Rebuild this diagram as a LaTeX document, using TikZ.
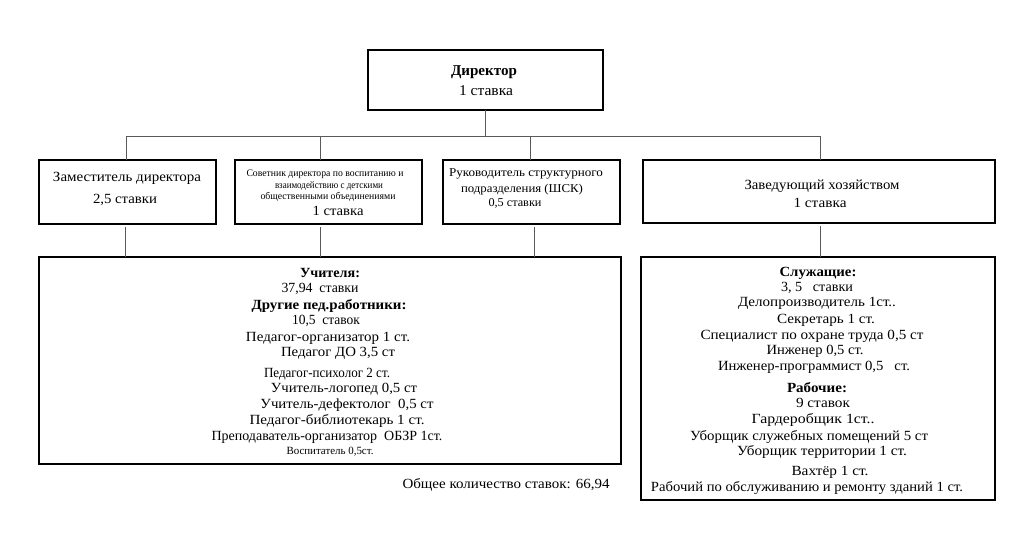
\documentclass[tikz,border=0pt]{standalone}
\usepackage{fontspec}
\setmainfont{Liberation Serif}
\usepackage{graphicx}
\newcommand{\wl}[2]{\resizebox{#1pt}{\height}{#2}}
\tikzset{
  box/.style={draw=black, line width=2.4pt, inner sep=0pt, outer sep=0pt, anchor=north west},
  tx/.style={inner sep=0pt, outer sep=0pt, anchor=center, font=\fontsize{14}{16}\selectfont},
  txs/.style={tx, font=\fontsize{10}{12}\selectfont},
  txm/.style={tx, font=\fontsize{12}{14}\selectfont},
  conn/.style={draw=black!65, line width=0.8pt}
}
\begin{document}
\begin{tikzpicture}[x=1pt,y=-1pt]
\useasboundingbox (0,0) rectangle (1024,534);
% boxes
\node[box, minimum width=235pt, minimum height=60pt] (dir) at (368,50) {};
\node[box, minimum width=177pt, minimum height=64pt] (zam) at (39,160) {};
\node[box, minimum width=187pt, minimum height=64pt] (sov) at (235,160) {};
\node[box, minimum width=177pt, minimum height=64pt] (ruk) at (443,160) {};
\node[box, minimum width=352pt, minimum height=63pt] (zav) at (643,160) {};
\node[box, minimum width=582pt, minimum height=207pt] (ped) at (39,257) {};
\node[box, minimum width=354pt, minimum height=243pt] (slu) at (641,257) {};
% junction coordinates
\coordinate (bus) at (0,136);
\coordinate (jz) at (126,136);
\coordinate (js) at (320,136);
\coordinate (jr) at (530,136);
\coordinate (jh) at (820,136);
\coordinate (lz) at (125,0);
\coordinate (ls) at (320,0);
\coordinate (lr) at (534,0);
\coordinate (lh) at (820,0);
% connectors
\draw[conn] (dir.south) -- (dir.south |- bus);
\draw[conn] (jz) -- (jh);
\draw[conn] (jz) -- (jz |- zam.north);
\draw[conn] (js) -- (js |- sov.north);
\draw[conn] (jr) -- (jr |- ruk.north);
\draw[conn] (jh) -- (jh |- zav.north);
\draw[conn] ([yshift=-3pt]lz |- zam.south) -- (lz |- ped.north);
\draw[conn] ([yshift=-3pt]ls |- sov.south) -- (ls |- ped.north);
\draw[conn] ([yshift=-3pt]lr |- ruk.south) -- (lr |- ped.north);
\draw[conn] ([yshift=-3pt]lh |- zav.south) -- (lh |- slu.north);
% director
\node[tx, font=\fontsize{15}{17}\selectfont] (d1) at (484,72) {\wl{66}{\textbf{Директор}}};
\node[tx, font=\fontsize{15}{17}\selectfont] (d2) at (486,91) {\wl{54}{1 ставка}};
% row 2
\node[tx] (z1) at (127,178) {\wl{148}{Заместитель директора}};
\node[tx] (z2) at (125,200) {\wl{64}{2,5 ставки}};
\node[txs] (s1) at (325,174) {\wl{157}{Советник директора по воспитанию и}};
\node[txs] (s2) at (329,186) {\wl{108}{взаимодействию с детскими}};
\node[txs] (s3) at (328,197) {\wl{135}{общественными объединениями}};
\node[tx] (s4) at (338,211) {\wl{51}{1 ставка}};
\node[txm] (r1) at (526,174) {\wl{154}{Руководитель структурного}};
\node[txm] (r2) at (522,190) {\wl{122}{подразделения (ШСК)}};
\node[txm] (r3) at (515,203) {\wl{53}{0,5 ставки}};
\node[tx] (h1) at (822,186) {\wl{155}{Заведующий хозяйством}};
\node[tx] (h2) at (820,203) {\wl{53}{1 ставка}};
% pedagogical staff
\node[tx] (p1) at (330,273) {\wl{60}{\textbf{Учителя:}}};
\node[tx] (p2) at (320,289) {\wl{77}{37,94\ \ ставки}};
\node[tx] (p3) at (329,306) {\wl{155}{\textbf{Другие пед.работники:}}};
\node[tx] (p4) at (326,321) {\wl{68}{10,5\ \ ставок}};
\node[tx] (p5) at (328,338) {\wl{164}{Педагог-организатор 1 ст.}};
\node[tx] (p6) at (338,353) {\wl{114}{Педагог ДО 3,5 ст}};
\node[tx] (p7) at (327,374) {\wl{126}{Педагог-психолог 2 ст.}};
\node[tx] (p8) at (344,389) {\wl{146}{Учитель-логопед 0,5 ст}};
\node[tx] (p9) at (347,405) {\wl{173}{Учитель-дефектолог\ \ 0,5 ст}};
\node[tx] (p10) at (337,421) {\wl{175}{Педагог-библиотекарь 1 ст.}};
\node[tx] (p11) at (327,437) {\wl{231}{Преподаватель-организатор\ \ ОБЗР 1ст.}};
\node[tx, font=\fontsize{11}{13}\selectfont] (p12) at (330,452) {\wl{87}{Воспитатель 0,5ст.}};
% service staff
\node[tx] (q1) at (818,273) {\wl{77}{\textbf{Служащие:}}};
\node[tx] (q2) at (817,288) {\wl{72}{3, 5\ \ \ ставки}};
\node[tx] (q3) at (817,303) {\wl{158}{Делопроизводитель 1ст..}};
\node[tx] (q4) at (826,320) {\wl{98}{Секретарь 1 ст.}};
\node[tx] (q5) at (812,336) {\wl{223}{Специалист по охране труда 0,5 ст}};
\node[tx] (q6) at (815,351) {\wl{97}{Инженер 0,5 ст.}};
\node[tx] (q7) at (814,367) {\wl{192}{Инженер-программист 0,5\ \ \ ст.}};
\node[tx] (q8) at (817,388) {\wl{60}{\textbf{Рабочие:}}};
\node[tx] (q9) at (823,403) {\wl{54}{9 ставок}};
\node[tx] (q10) at (813,420) {\wl{123}{Гардеробщик 1ст..}};
\node[tx] (q11) at (809,437) {\wl{238}{Уборщик служебных помещений 5 ст}};
\node[tx] (q12) at (822,452) {\wl{170}{Уборщик территории 1 ст.}};
\node[tx] (q13) at (830,472) {\wl{77}{Вахтёр 1 ст.}};
\node[tx] (q14) at (807,488) {\wl{312}{Рабочий по обслуживанию и ремонту зданий 1 ст.}};
% total
\node[tx] (tot) at (506,485) {\wl{207}{Общее количество ставок: 66,94}};
\end{tikzpicture}
\end{document}
